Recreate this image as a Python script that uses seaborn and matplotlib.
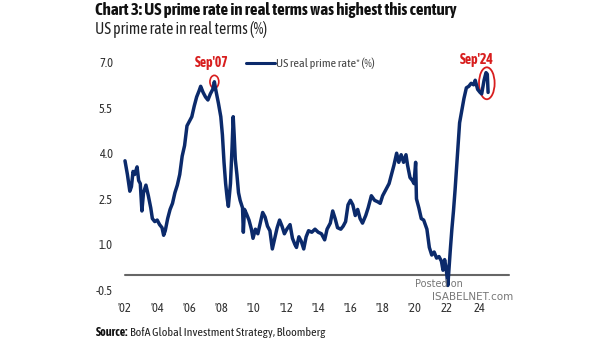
import matplotlib
matplotlib.use("Agg")
import matplotlib.pyplot as plt
from matplotlib.patches import Ellipse
from matplotlib.lines import Line2D
import seaborn as sns
import pandas as pd

# ---------------- data ----------------
years = [2002.0, 2002.15, 2002.3, 2002.4, 2002.5, 2002.6, 2002.75, 2002.85, 2002.95, 2003.05,
         2003.15, 2003.3, 2003.45, 2003.6, 2003.7, 2003.85, 2004.0, 2004.15, 2004.3, 2004.4,
         2004.5, 2004.65, 2004.8, 2004.95, 2005.1, 2005.25, 2005.4, 2005.55, 2005.7, 2005.85,
         2006.0, 2006.15, 2006.3, 2006.45, 2006.6, 2006.7, 2006.85, 2007.0, 2007.15, 2007.3,
         2007.45, 2007.55, 2007.65, 2007.8, 2007.95, 2008.05, 2008.15, 2008.25, 2008.35, 2008.42,
         2008.55, 2008.65, 2008.72, 2008.78, 2008.85, 2008.95, 2009.05, 2009.15, 2009.3, 2009.35,
         2009.42, 2009.55, 2009.7, 2009.85, 2009.95, 2010.1, 2010.25, 2010.4, 2010.55, 2010.7,
         2010.85, 2011.0, 2011.15, 2011.3, 2011.45, 2011.6, 2011.75, 2011.9, 2012.05, 2012.25,
         2012.4, 2012.55, 2012.65, 2012.8, 2012.95, 2013.1, 2013.25, 2013.4, 2013.6, 2013.8,
         2014.0, 2014.2, 2014.4, 2014.55, 2014.75, 2014.9, 2015.05, 2015.2, 2015.4, 2015.55,
         2015.7, 2015.85, 2016.0, 2016.15, 2016.3, 2016.45, 2016.6, 2016.75, 2016.95, 2017.1,
         2017.3, 2017.5, 2017.7, 2017.85, 2018.0, 2018.2, 2018.4, 2018.55, 2018.7, 2018.87,
         2019.0, 2019.15, 2019.3, 2019.45, 2019.55, 2019.7, 2019.85, 2019.95, 2020.05, 2020.1,
         2020.25, 2020.4, 2020.55, 2020.75, 2020.9, 2021.05, 2021.2, 2021.35, 2021.5, 2021.65,
         2021.75, 2021.85, 2021.95, 2022.05, 2022.12, 2022.2, 2022.3, 2022.4, 2022.5, 2022.6,
         2022.68, 2022.78, 2022.9, 2023.05, 2023.2, 2023.35, 2023.5, 2023.65, 2023.75, 2023.9,
         2024.05, 2024.15, 2024.3, 2024.42, 2024.5, 2024.55]
rate = [3.75, 3.3, 2.75, 2.9, 3.4, 3.3, 3.55, 3.1, 3.0, 2.1,
        2.7, 2.95, 2.6, 2.2, 1.85, 1.75, 1.8, 1.65, 1.55, 1.3,
        1.45, 1.85, 2.15, 2.35, 2.7, 2.95, 3.3, 3.9, 4.25, 4.9,
        5.05, 5.2, 5.55, 5.85, 6.05, 6.2, 6.0, 5.85, 5.75, 5.95,
        6.1, 6.35, 6.05, 5.65, 5.2, 4.6, 3.7, 3.0, 2.5, 2.25,
        3.0, 4.2, 5.2, 4.6, 3.8, 3.3, 2.7, 2.45, 2.2, 1.4,
        2.15, 2.0, 1.8, 1.5, 1.2, 1.5, 1.35, 1.7, 2.05, 1.9,
        1.6, 1.45, 0.85, 1.2, 1.55, 1.8, 1.6, 1.35, 1.5, 1.65,
        1.2, 1.0, 0.9, 1.25, 1.1, 0.85, 1.25, 1.45, 1.4, 1.5,
        1.4, 1.35, 1.15, 1.5, 1.7, 2.1, 1.85, 1.55, 1.5, 1.6,
        1.75, 2.3, 2.45, 2.3, 1.95, 2.15, 1.85, 1.7, 1.95, 2.2,
        2.6, 2.45, 2.4, 2.35, 2.6, 2.8, 3.0, 3.3, 3.6, 4.0,
        3.7, 3.95, 3.7, 3.95, 3.6, 3.2, 3.1, 3.0, 3.7, 2.5,
        2.2, 1.85, 1.8, 1.5, 0.9, 0.65, 0.75, 0.55, 0.6, 0.45,
        0.15, 0.5, 0.2, -0.35, 0.2, 0.8, 1.5, 2.1, 2.8, 3.6,
        4.2, 5.0, 5.35, 5.8, 6.15, 6.2, 6.3, 6.25, 6.4, 6.1,
        6.0, 5.95, 6.4, 6.65, 6.6, 6.0]
y_ticks = [7.0, 5.5, 4.0, 2.5, 1.0, -0.5]
x_ticks = [2002, 2004, 2006, 2008, 2010, 2012, 2014, 2016, 2018, 2020, 2022, 2024]
x_labels = ["'02", "'04", "'06", "'08", "'10", "'12", "'14", "'16", "'18", "'20", "22", "24"]
series_label = "US real prime rate* (%)"
title = "Chart 3: US prime rate in real terms was highest this century"
subtitle = "US prime rate in real terms (%)"
source_bold = "Source:"
source_rest = "BofA Global Investment Strategy, Bloomberg"

# ---------------- style ----------------
sns.set_theme(style="white")
FAM = ["Liberation Sans Narrow", "Asap Condensed", "Barlow Condensed", "DejaVu Sans"]
plt.rcParams["font.family"] = FAM

NAVY = "#0b2a6b"
RED = "#d81e1e"

fig = plt.figure(figsize=(6.05, 3.41), dpi=100)
W, H = 605, 341
ax = fig.add_axes([120 / W, 1 - 290 / H, 390 / W, 228 / H])

df = pd.DataFrame({"year": years, "rate": rate})
sns.lineplot(data=df, x="year", y="rate", ax=ax, color=NAVY, linewidth=2.5,
             sort=False, legend=False)
for l in ax.lines:
    l.set_clip_on(False)
    l.set_solid_joinstyle("round")

x0, x1 = 2001.69, 2025.91
ax.set_xlim(x0, x1)
ax.set_ylim(-0.5, 7.0)
ax.axhline(0, xmin=(2002 - x0) / (x1 - x0), xmax=(2025.85 - x0) / (x1 - x0),
           color="#666666", linewidth=1.5, zorder=1)

for s in ax.spines.values():
    s.set_visible(False)
ax.grid(False)
ax.set_xlabel("")
ax.set_ylabel("")
ax.set_yticks(y_ticks)
ax.set_yticklabels([f"{v:.1f}" for v in y_ticks])
ax.set_xticks(x_ticks)
ax.set_xticklabels(x_labels)
ax.tick_params(axis="both", length=0, labelsize=9, labelcolor="#333333")
ax.tick_params(axis="x", pad=9)
ax.tick_params(axis="y", pad=5)

# legend
h = Line2D([], [], color=NAVY, linewidth=2.2)
leg = ax.legend([h], [series_label], loc="center left",
                bbox_to_anchor=(246 / W, 1 - 63 / H), bbox_transform=fig.transFigure,
                frameon=False, handlelength=2.4, handletextpad=0.1,
                borderpad=0, borderaxespad=0, fontsize=8.7)
for t in leg.get_texts():
    t.set_color("#444444")

# annotations
ax.add_patch(Ellipse((2007.55, 6.35), 0.55, 0.42, fill=False, edgecolor=RED, linewidth=1.2, clip_on=False))
ax.text(2007.38, 6.97, "Sep'07", color=RED, fontsize=10, fontweight="bold", ha="center", va="center", clip_on=False)
ax.add_patch(Ellipse((2024.47, 6.3), 0.97, 1.05, fill=False, edgecolor=RED, linewidth=1.3, clip_on=False))
ax.text(2023.86, 7.07, "Sep'24", color=RED, fontsize=10, fontweight="bold", ha="center", va="center", clip_on=False)

# watermark
fig.text(439 / W, 1 - 284 / H, "Posted on", color="#777777", fontsize=7, ha="center", va="center",
         family=["DejaVu Sans"])
fig.text(473 / W, 1 - 297 / H, "ISABELNET.com", color="#777777", fontsize=7.5, ha="center", va="center",
         family=["DejaVu Sans"])


def fit(t, target_px, renderer):
    w = t.get_window_extent(renderer).width
    t.set_fontsize(t.get_fontsize() * target_px / w)


LEFT = 95
# titles
t1 = fig.text(LEFT / W, 1 - 10 / H, title, fontsize=11, fontweight="bold", color="#111111",
              ha="left", va="center")
t2 = fig.text(LEFT / W, 1 - 30 / H, subtitle, fontsize=10, color="#222222", ha="left", va="center")
src1 = fig.text(96 / W, 1 - 333 / H, source_bold, fontsize=8.5, fontweight="bold", color="#111111",
                ha="left", va="center")
src2 = fig.text(0, 1 - 333 / H, source_rest, fontsize=8.5, color="#222222", ha="left", va="center")
fig.canvas.draw()
r = fig.canvas.get_renderer()
fit(t1, 363, r)
fit(t2, 172, r)
# scale the source line to its width in the reference
w_tot = src1.get_window_extent(r).width + 2 + src2.get_window_extent(r).width
scale = 229 / w_tot
src1.set_fontsize(src1.get_fontsize() * scale)
src2.set_fontsize(src2.get_fontsize() * scale)
fig.canvas.draw()
bb = src1.get_window_extent(r)
src2.set_x((bb.x1 + 2) / W)

fig.savefig("out.png", dpi=100)
